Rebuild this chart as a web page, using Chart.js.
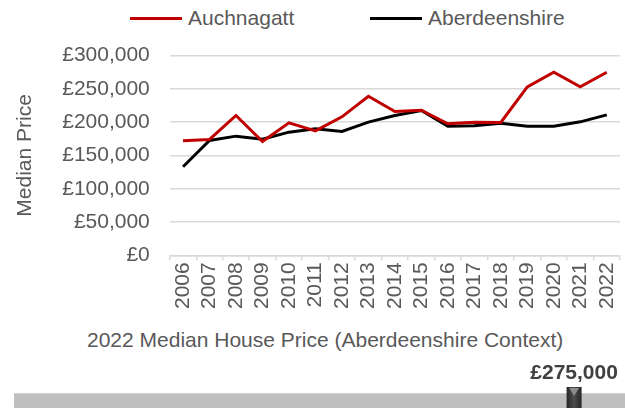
<!DOCTYPE html>
<html>
<head>
<meta charset="utf-8">
<script src="https://cdn.jsdelivr.net/npm/chart.js@4.4.1/dist/chart.umd.min.js"></script>
<style>
    body { margin: 0; width: 625px; height: 408px; overflow: hidden; background: #fff; font-family: "Liberation Sans", Arial, sans-serif; }
    #legend { position: absolute; top: 5px; left: 0; width: 625px; height: 26px; }
    .item { position: absolute; top: 0; height: 26px; display: flex; align-items: center; color: #595959; font-size: 21px; }
    .item span.line { display: inline-block; width: 52px; height: 3px; margin-right: 6px; }
    #main { position: absolute; top: 23px; left: 0; }
    #caption { position: absolute; top: 328px; left: 87px; font-size: 21px; color: #595959; white-space: nowrap; }
    #gauge { position: absolute; top: 361px; left: 0; }
</style>
</head>
<body>
<div id="legend"></div>
<canvas id="main" width="625" height="288"></canvas>
<div id="caption">2022 Median House Price (Aberdeenshire Context)</div>
<canvas id="gauge" width="625" height="80"></canvas>
<script>
const years = ['2006', '2007', '2008', '2009', '2010', '2011', '2012', '2013', '2014', '2015', '2016', '2017', '2018', '2019', '2020', '2021', '2022'];
const auchnagatt = [172000, 174000, 210000, 171000, 199000, 187000, 208000, 239000, 216000, 218000, 197500, 200000, 199500, 253000, 275000, 253000, 275000];
const aberdeenshire = [133000, 172500, 179000, 174500, 185000, 190000, 186000, 200000, 210000, 217500, 194000, 194500, 198500, 194000, 194000, 200500, 211000];
const yTicks = [0, 50000, 100000, 150000, 200000, 250000, 300000];

// gauge: 2022 value on a £0 - £300,000 track
const gaugeRange = [0, 300000];
const gaugeValue = 275000;

const grey = '#595959';
const font = { family: '"Liberation Sans", Arial, sans-serif', size: 21 };
const money = v => '£' + v.toLocaleString('en-GB');

const chart = new Chart(document.getElementById('main'), {
    type: 'line',
    data: {
        labels: years,
        datasets: [
            { label: 'Auchnagatt', data: auchnagatt, borderColor: '#c00000', borderWidth: 3, pointRadius: 0, tension: 0 },
            { label: 'Aberdeenshire', data: aberdeenshire, borderColor: '#000000', borderWidth: 3, pointRadius: 0, tension: 0 },
        ]
    },
    options: {
        responsive: false,
        animation: false,
        layout: { padding: { left: 9, right: 5, top: 6, bottom: 0 } },
        plugins: {
            legend: { display: false },
            tooltip: { enabled: false },
        },
        scales: {
            x: {
                offset: true,
                afterFit: s => { s.paddingRight = 0; s.paddingLeft = 0; },
                grid: { offset: true, drawOnChartArea: false, color: '#d9d9d9', lineWidth: 1.5, tickLength: 5 },
                border: { color: '#d9d9d9', width: 1.5 },
                ticks: { color: grey, font: font, minRotation: 90, maxRotation: 90, padding: 2, autoSkip: false },
            },
            y: {
                min: yTicks[0],
                max: yTicks[yTicks.length - 1],
                afterBuildTicks: axis => { axis.ticks = yTicks.map(v => ({ value: v })); },
                grid: { color: '#d9d9d9', lineWidth: 1.5, drawTicks: false },
                border: { display: false },
                ticks: { color: grey, font: font, padding: 20, callback: money },
                title: { display: true, text: 'Median Price', color: grey, font: font, padding: 4 },
            },
        }
    }
});

// legend built from the chart's datasets
const legend = document.getElementById('legend');
const legendLeft = [130, 370];
chart.data.datasets.forEach((ds, i) => {
    const item = document.createElement('div');
    item.className = 'item';
    item.style.left = legendLeft[i] + 'px';
    item.innerHTML = '<span class="line" style="background:' + ds.borderColor + '"></span>' + ds.label;
    legend.appendChild(item);
});

const markerPlugin = {
    id: 'marker',
    afterDatasetsDraw(c) {
        const ctx = c.ctx;
        const x = c.scales.x.getPixelForValue(gaugeValue);
        const top = 26, bottom = c.height, w = 15;
        const g = ctx.createLinearGradient(x - w / 2, 0, x + w / 2, 0);
        g.addColorStop(0, '#262626');
        g.addColorStop(0.5, '#4d4d4d');
        g.addColorStop(1, '#262626');
        ctx.save();
        ctx.fillStyle = g;
        ctx.fillRect(x - w / 2, top, w, bottom - top);
        ctx.fillStyle = '#8c8c8c';
        ctx.beginPath();
        ctx.moveTo(x - 5, top + 1);
        ctx.lineTo(x + 5, top + 1);
        ctx.lineTo(x, top + 9);
        ctx.closePath();
        ctx.fill();
        ctx.fillStyle = '#404040';
        ctx.font = 'bold 21px "Liberation Sans", Arial, sans-serif';
        ctx.textAlign = 'center';
        ctx.textBaseline = 'middle';
        ctx.fillText(money(gaugeValue), x, 12);
        ctx.restore();
    }
};

new Chart(document.getElementById('gauge'), {
    type: 'bar',
    data: {
        labels: ['2022'],
        datasets: [{ data: [gaugeRange], backgroundColor: '#bfbfbf', barThickness: 15 }]
    },
    options: {
        indexAxis: 'y',
        responsive: false,
        animation: false,
        layout: { padding: { left: 14, right: 0, top: 0, bottom: 0 } },
        plugins: { legend: { display: false }, tooltip: { enabled: false } },
        scales: {
            x: { display: false, min: gaugeRange[0], max: gaugeRange[1] },
            y: { display: false },
        }
    },
    plugins: [markerPlugin]
});
</script>
</body>
</html>
